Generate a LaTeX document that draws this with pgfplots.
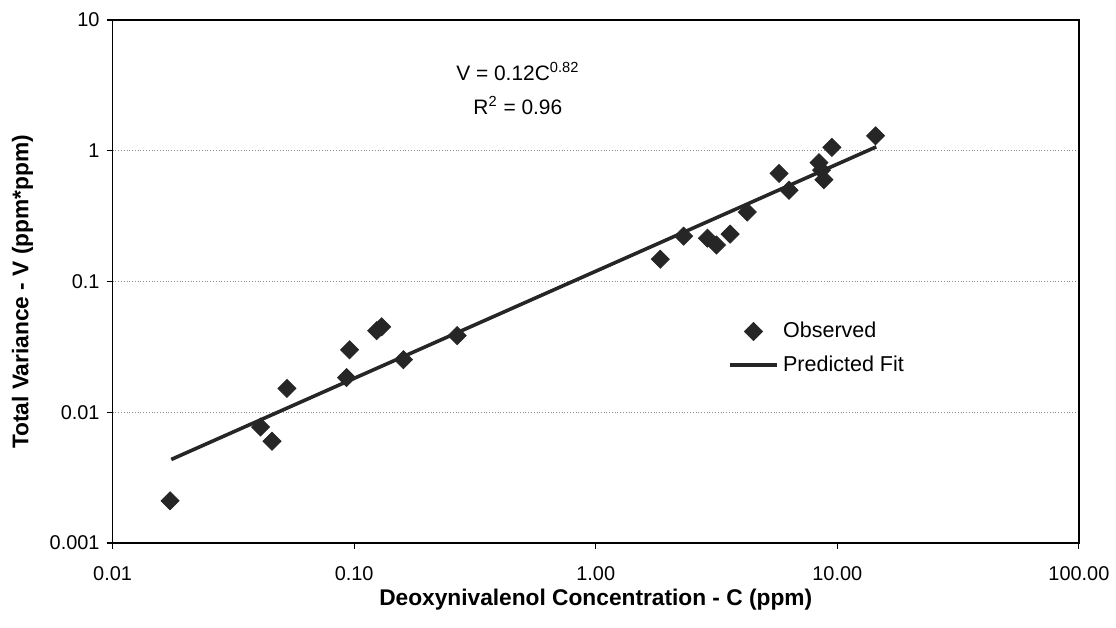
\documentclass[border=0pt]{standalone}
\usepackage{fontspec}
\setmainfont{Liberation Sans}
\usepackage{pgfplots}
\pgfplotsset{compat=1.18}
\usetikzlibrary{calc}

\pgfplotsset{
  linelegend/.style={legend image code/.code={\draw[##1] (0pt,0pt) -- (24pt,0pt);}},
  marklegend/.style={legend image code/.code={\draw[##1] plot coordinates {(12pt,0pt)};}},
}

\begin{document}
\begin{tikzpicture}
\begin{axis}[
  scale only axis,
  width=485pt, height=262.5pt,
  xmode=log, ymode=log,
  xmin=0.01, xmax=100, ymin=0.001, ymax=10,
  xtick={0.01,0.1,1,10,100},
  xticklabels={0.01,0.10,1.00,10.00,100.00},
  ytick={0.001,0.01,0.1,1,10},
  yticklabels={0.001,0.01,0.1,1,10},
  xminorticks=false, yminorticks=false,
  ymajorgrids,
  major grid style={black!45, densely dotted, line width=0.6pt},
  tick align=outside, xtick pos=bottom, ytick pos=left,
  major tick length=3pt,
  tick style={black, line width=0.6pt},
  axis line style={black, line width=0.9pt},
  tick label style={font=\fontsize{10}{12}\selectfont},
  xticklabel style={yshift=-5.5pt},
  xlabel={Deoxynivalenol Concentration - C (ppm)},
  ylabel={Total Variance - V (ppm*ppm)},
  label style={font=\bfseries\fontsize{11.4}{13}\selectfont},
  xlabel style={at={(axis description cs:0.5,-0.109)}, anchor=center},
  ylabel style={at={(axis description cs:-0.0933,0.48)}, anchor=center},
  legend style={draw=none, fill=none, at={(0.63,0.438)}, anchor=north west,
    font=\fontsize{10.8}{13}\selectfont, row sep=3.4pt},
  legend cell align=left,
]
\addplot[only marks, mark=square*, mark size=3.2pt,
  mark options={rotate=45, fill=black!85, draw=black!85}, marklegend]
coordinates {
(0.0173,0.0021)
(0.041,0.0077)
(0.0457,0.006)
(0.0527,0.0152)
(0.093,0.0184)
(0.0957,0.030)
(0.124,0.042)
(0.13,0.045)
(0.16,0.0252)
(0.267,0.0385)
(1.85,0.148)
(2.31,0.222)
(2.9,0.214)
(3.16,0.19)
(3.6,0.23)
(4.24,0.339)
(5.74,0.67)
(6.31,0.498)
(8.4,0.81)
(8.6,0.71)
(8.8,0.6)
(9.5,1.06)
(14.4,1.3)
};
\addlegendentry{Observed}
\addplot[no marks, black!85, line width=1.8pt, linelegend]
coordinates {(0.0175,0.00435) (14.5,1.07)};
\addlegendentry{Predicted Fit}
\node[align=center, font=\fontsize{10.5}{17}\selectfont] at (axis cs:0.476,2.97)
  {V = 0.12C\textsuperscript{0.82}\\R\textsuperscript{2} = 0.96};
\end{axis}
\path ($(current axis.south west)+(-56.5pt,-42.5pt)$) rectangle ($(current axis.north east)+(16.5pt,10pt)$);
\end{tikzpicture}
\end{document}
